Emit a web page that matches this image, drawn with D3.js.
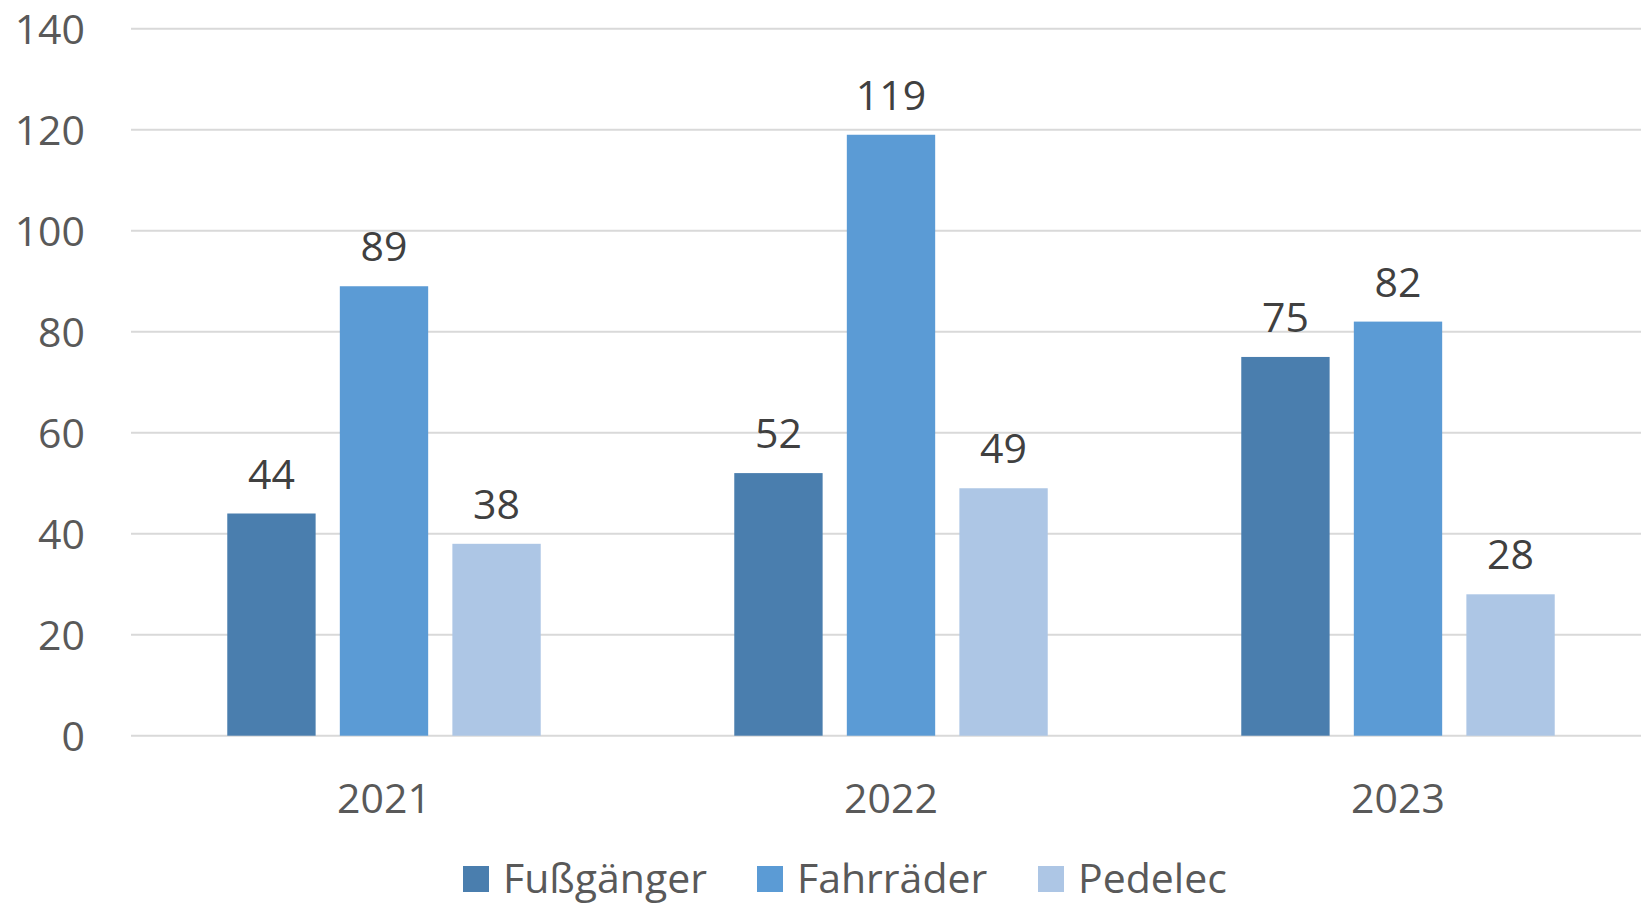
<!DOCTYPE html>
<html lang="de">
<head>
    <meta charset="UTF-8">
    <title>Verunglückte nach Verkehrsart</title>
    <script src="https://d3js.org/d3.v7.min.js"></script>
    <style>
        body {
            margin: 0;
            background-color: white;
            font-family: "Open Sans", sans-serif;
        }
        svg { display: block; }
    </style>
</head>
<body>
    <div id="chart"></div>
    <script>
        // Data
        const years = ["2021", "2022", "2023"];
        const seriesNames = ["Fußgänger", "Fahrräder", "Pedelec"];
        const fussgaenger = [44, 52, 75];
        const fahrraeder = [89, 119, 82];
        const pedelec = [38, 49, 28];
        const yTicks = [0, 20, 40, 60, 80, 100, 120, 140];

        const colors = ["#4a7eae", "#5b9bd5", "#adc6e5"];
        const seriesValues = [fussgaenger, fahrraeder, pedelec];

        const width = 1641, height = 904;

        const svg = d3.select("#chart")
          .append("svg")
            .attr("width", width)
            .attr("height", height);

        // Scales
        const x = d3.scaleBand()
            .domain(years)
            .range([130.5, 1651.5])
            .paddingInner(0.334)
            .paddingOuter(0.167);

        const xInner = d3.scaleBand()
            .domain(seriesNames)
            .range([0, x.bandwidth()])
            .paddingInner(0.215)
            .paddingOuter(0.1075);

        const y = d3.scaleLinear()
            .domain([0, 140])
            .range([735.7, 28.7]);

        // Gridlines
        svg.append("g")
          .selectAll("line")
          .data(yTicks)
          .join("line")
            .attr("x1", 131)
            .attr("x2", width)
            .attr("y1", d => y(d))
            .attr("y2", d => y(d))
            .attr("stroke", "#d9d9d9")
            .attr("stroke-width", 2);

        // Y axis labels
        svg.append("g")
          .selectAll("text")
          .data(yTicks)
          .join("text")
            .attr("x", 85)
            .attr("y", d => y(d) + 15)
            .attr("text-anchor", "end")
            .attr("fill", "#595959")
            .style("font-size", "41px")
            .text(d => d);

        // Bars
        const rows = [];
        years.forEach((yr, i) => {
            seriesNames.forEach((s, j) => {
                rows.push({year: yr, series: s, value: seriesValues[j][i], color: colors[j]});
            });
        });

        const bars = svg.append("g");
        bars.selectAll("rect")
          .data(rows)
          .join("rect")
            .attr("x", d => x(d.year) + xInner(d.series))
            .attr("y", d => y(d.value))
            .attr("width", xInner.bandwidth())
            .attr("height", d => y(0) - y(d.value))
            .attr("fill", d => d.color);

        // Data labels
        bars.selectAll("text")
          .data(rows)
          .join("text")
            .attr("x", d => x(d.year) + xInner(d.series) + xInner.bandwidth() / 2)
            .attr("y", d => y(d.value) - 25)
            .attr("text-anchor", "middle")
            .attr("fill", "#404040")
            .style("font-size", "41px")
            .text(d => d.value);

        // X axis labels
        svg.append("g")
          .selectAll("text")
          .data(years)
          .join("text")
            .attr("x", d => x(d) + x.bandwidth() / 2)
            .attr("y", 812.5)
            .attr("text-anchor", "middle")
            .attr("fill", "#595959")
            .style("font-size", "41px")
            .text(d => d);

        // Legend
        const legendX = [463, 757, 1038];
        const legend = svg.append("g")
          .selectAll("g")
          .data(seriesNames)
          .join("g")
            .attr("transform", (d, i) => `translate(${legendX[i]},0)`);

        legend.append("rect")
            .attr("x", 0)
            .attr("y", 866)
            .attr("width", 26)
            .attr("height", 26)
            .attr("fill", (d, i) => colors[i]);

        legend.append("text")
            .attr("x", 40)
            .attr("y", 893)
            .attr("fill", "#595959")
            .style("font-size", "41px")
            .text(d => d);
    </script>
</body>
</html>
